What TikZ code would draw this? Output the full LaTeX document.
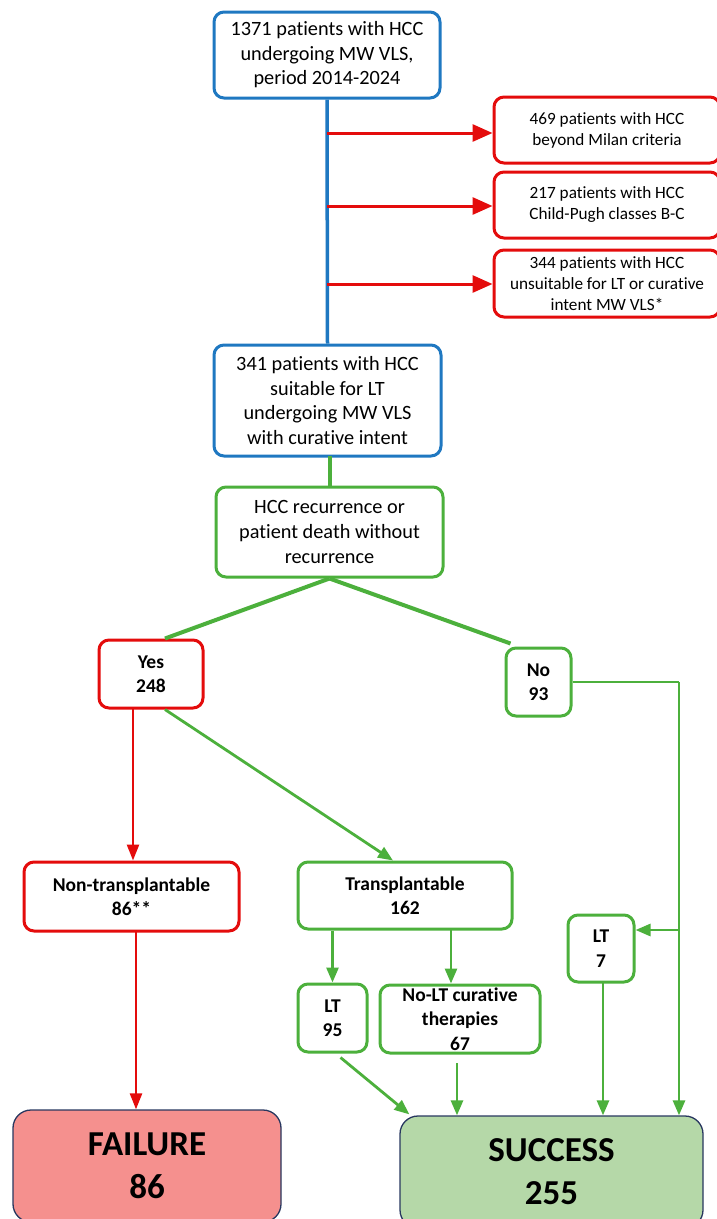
\documentclass[tikz,border=0pt]{standalone}
\usepackage{fontspec}
\setmainfont{Carlito}[Ligatures=NoCommon]
\usetikzlibrary{arrows.meta,calc}
\definecolor{cblue}{RGB}{31,120,193}
\definecolor{cred}{RGB}{228,12,12}
\definecolor{cgreen}{RGB}{76,176,60}
\definecolor{failfill}{RGB}{245,144,142}
\definecolor{succfill}{RGB}{181,216,168}
\definecolor{navy}{RGB}{40,55,95}
\tikzset{
  box/.style={draw, rounded corners=10pt, line width=3pt, align=center, inner sep=0pt, fill=white},
  bluebox/.style={box, draw=cblue, font=\fontsize{20.3}{24.5}\selectfont},
  redsmall/.style={box, draw=cred, font=\fontsize{17.2}{21}\selectfont},
  redbox/.style={box, draw=cred, font=\bfseries\fontsize{19.5}{24.5}\selectfont},
  greenbox/.style={box, draw=cgreen, font=\bfseries\fontsize{19.5}{24.5}\selectfont},
  greenbig/.style={box, draw=cgreen, font=\fontsize{20.3}{25}\selectfont},
  endbox/.style={draw=navy, line width=1.3pt, rounded corners=18pt, align=center, inner sep=0pt, font=\bfseries\fontsize{35}{43}\selectfont},
  blueline/.style={draw=cblue, line width=3.5pt},
  redarrow/.style={draw=cred, line width=3pt, -{Triangle[length=20pt,width=17pt]}},
  redarrowsm/.style={draw=cred, line width=2.5pt, -{Triangle[length=16pt,width=12pt]}},
  gline/.style={draw=cgreen, line width=4pt},
  garrow/.style={draw=cgreen, line width=2.8pt, -{Triangle[length=15pt,width=12pt]}},
  gthin/.style={draw=cgreen, line width=2.8pt},
}
\begin{document}
\begin{tikzpicture}[x=1pt,y=-1pt]
\useasboundingbox (0,0) rectangle (717,1219);

% nodes
\node[bluebox, minimum width=226pt, minimum height=86pt] (top) at (327,55)
  {1371 patients with HCC\\undergoing MW VLS,\\period 2014-2024};
\node[redsmall, minimum width=226pt, minimum height=66pt] (r1) at (607,130)
  {469 patients with HCC\\beyond Milan criteria};
\node[redsmall, minimum width=226pt, minimum height=66pt] (r2) at (607,205)
  {217 patients with HCC\\Child-Pugh classes B-C};
\node[redsmall, minimum width=226pt, minimum height=67pt] (r3) at (607,283.5)
  {344 patients with HCC\\unsuitable for LT or curative\\intent MW VLS*};
\node[bluebox, minimum width=227pt, minimum height=111pt] (suit) at (327.5,400.5)
  {341 patients with HCC\\suitable for LT\\undergoing MW VLS\\with curative intent};
\node[greenbig, minimum width=227pt, minimum height=90pt] (rec) at (329.5,532)
  {HCC recurrence or\\patient death without\\recurrence};
\node[redbox, minimum width=104pt, minimum height=68pt] (yes) at (151,674)
  {Yes\\248};
\node[greenbox, minimum width=65pt, minimum height=68pt] (no) at (538.5,682)
  {No\\93};
\node[redbox, minimum width=215pt, minimum height=69pt] (nt) at (131.5,896.5)
  {Non-transplantable\\86**};
\node[greenbox, minimum width=214pt, minimum height=67pt] (tr) at (405,895.5)
  {Transplantable\\162};
\node[greenbox, minimum width=66pt, minimum height=67pt] (lt7) at (601,948.5)
  {LT\\7};
\node[greenbox, minimum width=69pt, minimum height=68pt] (lt95) at (332.5,1018)
  {LT\\95};
\node[greenbox, minimum width=160pt, minimum height=68pt] (nolt) at (460,1019)
  {No-LT curative\\therapies\\67};
\node[endbox, fill=failfill, minimum width=268pt, minimum height=112pt] (fail) at (147,1166)
  {FAILURE\\86};
\node[endbox, fill=succfill, minimum width=303pt, minimum height=112pt] (succ) at (551.5,1172)
  {SUCCESS\\255};

% connectors
\draw[blueline] (top.south) -- (suit.north);
\coordinate (j1) at (327,133);
\coordinate (j2) at (327,206);
\coordinate (j3) at (327,284);
\draw[redarrow] (j1) -- (j1 -| r1.west);
\draw[redarrow] (j2) -- (j2 -| r2.west);
\draw[redarrow] (j3) -- (j3 -| r3.west);
\coordinate (g0) at (330,456);
\draw[gline] (g0) -- (g0 |- rec.north);
\draw[gline] (rec.south) -- ($(yes.north)+(14,0)$);
\draw[gline] (rec.south) -- ($(no.north west)+(6,-3)$);
\coordinate (c1) at (679,684);
\coordinate (c2) at (679,930);
\draw[gthin] (no.east) -- (no.east -| c1);
\draw[garrow] (no.east -| c1) -- (c1 |- succ.north);
\draw[garrow] (c2) -- (c2 -| lt7.east);
\coordinate (y1) at (133,708);
\draw[redarrowsm] (y1) -- (y1 |- nt.north);
\draw[garrow] ($(yes.south)+(14,0)$) -- ($(tr.north)+(-12,0)$);
\draw[garrow] (tr.south -| lt95) -- (lt95.north);
\coordinate (t2) at (451,929);
\draw[garrow] (t2) -- (t2 |- nolt.north);
\draw[garrow] ($(lt95.south)+(8,4)$) -- ($(succ.north west)+(10,-1)$);
\coordinate (s1) at (457,1063);
\draw[garrow] (s1) -- (s1 |- succ.north);
\coordinate (s2) at (603,982);
\draw[garrow] (s2) -- (s2 |- succ.north);
\coordinate (n1) at (136,931);
\draw[redarrowsm] (n1) -- (n1 |- fail.north);
\end{tikzpicture}
\end{document}
